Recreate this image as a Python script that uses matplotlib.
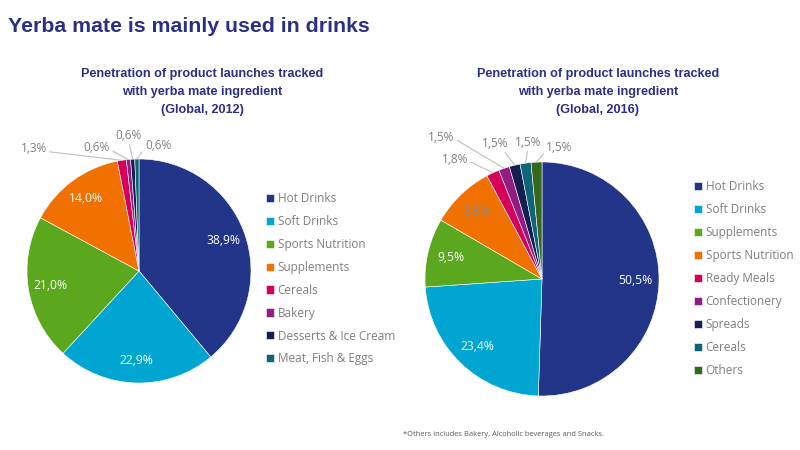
import matplotlib
matplotlib.use('Agg')
import matplotlib.pyplot as plt
import numpy as np

# data
cats_2012 = ['Hot Drinks', 'Soft Drinks', 'Sports Nutrition', 'Supplements',
             'Cereals', 'Bakery', 'Desserts & Ice Cream', 'Meat, Fish & Eggs']
vals_2012 = [38.9, 22.9, 21.0, 14.0, 1.3, 0.6, 0.6, 0.6]

cats_2016 = ['Hot Drinks', 'Soft Drinks', 'Supplements', 'Sports Nutrition',
             'Ready Meals', 'Confectionery', 'Spreads', 'Cereals', 'Others']
vals_2016 = [50.5, 23.4, 9.5, 8.8, 1.8, 1.5, 1.5, 1.5, 1.5]

# colours
NAVY = '#233588'
CYAN = '#00a5d2'
GREEN = '#5ba71d'
ORANGE = '#f07000'
MAGENTA = '#d6005c'
PURPLE = '#921c80'
DARK = '#141f4f'
TEAL = '#0e6478'
OLIVE = '#35681b'
TITLE_C = '#2b2f86'
GREY = '#7f7f7f'

cols_2012 = [NAVY, CYAN, GREEN, ORANGE, MAGENTA, PURPLE, DARK, TEAL]
cols_2016 = [NAVY, CYAN, GREEN, ORANGE, MAGENTA, PURPLE, DARK, TEAL, OLIVE]

# label layout (radius units), white/grey inside labels, outside leader labels
in_col_2012 = ['white', 'white', 'white', 'white']
out_pos_2012 = [(-0.94, 1.09), (-0.375, 1.107), (-0.09, 1.21), (0.17, 1.12)]
out_rel_2012 = [(1, 0.3), (1, 0.3), (0.5, 0), (0, 0.3)]

in_col_2016 = ['white', 'white', 'white', '#8a8a8a']
out_pos_2016 = [(-0.74, 1.02), (-0.86, 1.21), (-0.40, 1.16), (-0.12, 1.17), (0.15, 1.12)]
out_rel_2016 = [(1, 0.4), (1, 0.4), (0.8, 0), (0.5, 0), (0, 0.3)]

TXT = ['Liberation Sans Narrow', 'Liberation Sans', 'DejaVu Sans']
LBL = ['Open Sans', 'DejaVu Sans']

fig = plt.figure(figsize=(8, 4.5), dpi=100)
fig.patch.set_facecolor('white')


def fmt(v):
    return ('%.1f' % v).replace('.', ',') + '%'


def draw_pie(rect, vals, cols, in_cols, out_pos, out_rel):
    ax = fig.add_axes(rect)
    wedges, _ = ax.pie(vals, colors=cols, startangle=90, counterclock=False,
                       radius=1, wedgeprops=dict(edgecolor='white', linewidth=0.4))
    ax.set_xlim(-1, 1)
    ax.set_ylim(-1, 1)
    ax.set_aspect('auto')
    ax.axis('off')
    n_in = len(in_cols)
    for i, (w, v) in enumerate(zip(wedges, vals)):
        ang = np.deg2rad((w.theta1 + w.theta2) / 2)
        if i < n_in:
            ax.text(0.8 * np.cos(ang), 0.8 * np.sin(ang), fmt(v), color=in_cols[i],
                    ha='center', va='center', fontsize=8.7, family=LBL)
        else:
            tx, ty = out_pos[i - n_in]
            ax.annotate(fmt(v), xy=(np.cos(ang), np.sin(ang)), xytext=(tx, ty),
                        ha='center', va='center', fontsize=8.5, color=GREY, family=LBL,
                        annotation_clip=False,
                        arrowprops=dict(arrowstyle='-', color='#bfbfbf', lw=0.8,
                                        shrinkA=0, shrinkB=0,
                                        relpos=out_rel[i - n_in]))
    return ax, wedges


# 2012 pie: centre (139,271) r 112 px
ax1, w1 = draw_pie([27 / 800, (450 - 383) / 450, 224 / 800, 224 / 450],
                   vals_2012, cols_2012, in_col_2012, out_pos_2012, out_rel_2012)
# 2016 pie: centre (542,279) r 117 px
ax2, w2 = draw_pie([425 / 800, (450 - 396) / 450, 234 / 800, 234 / 450],
                   vals_2016, cols_2016, in_col_2016, out_pos_2016, out_rel_2016)

leg_kw = dict(loc='upper left', frameon=False, handlelength=0.68, handleheight=0.68,
              handletextpad=0.3, borderaxespad=0, borderpad=0,
              prop={'family': LBL, 'size': 8.5}, labelcolor=GREY)
fig.legend(w1, cats_2012, bbox_to_anchor=(266 / 800, 1 - 192 / 450),
           labelspacing=0.84, **leg_kw)
fig.legend(w2, cats_2016, bbox_to_anchor=(694 / 800, 1 - 180 / 450),
           labelspacing=0.85, **leg_kw)

fig.text(8 / 800, 1 - 27 / 450, 'Yerba mate is mainly used in drinks', family=TXT,
         fontsize=15.3, fontweight='bold', color=TITLE_C, ha='left', va='center')

sub = 'Penetration of product launches tracked\nwith yerba mate ingredient\n(Global, %s)'
fig.text(202 / 800, 1 - 92 / 450, sub % '2012', family=TXT, fontsize=9.1,
         fontweight='bold', color=TITLE_C, ha='center', va='center', linespacing=1.62)
fig.text(598 / 800, 1 - 92 / 450, sub % '2016', family=TXT, fontsize=9.1,
         fontweight='bold', color=TITLE_C, ha='center', va='center', linespacing=1.62)

fig.text(403 / 800, 1 - 435 / 450,
         '*Others includes Bakery, Alcoholic beverages and Snacks.',
         family=LBL, fontsize=5.4, color='#595959', ha='left', va='center')

fig.savefig('out.png', dpi=100)
